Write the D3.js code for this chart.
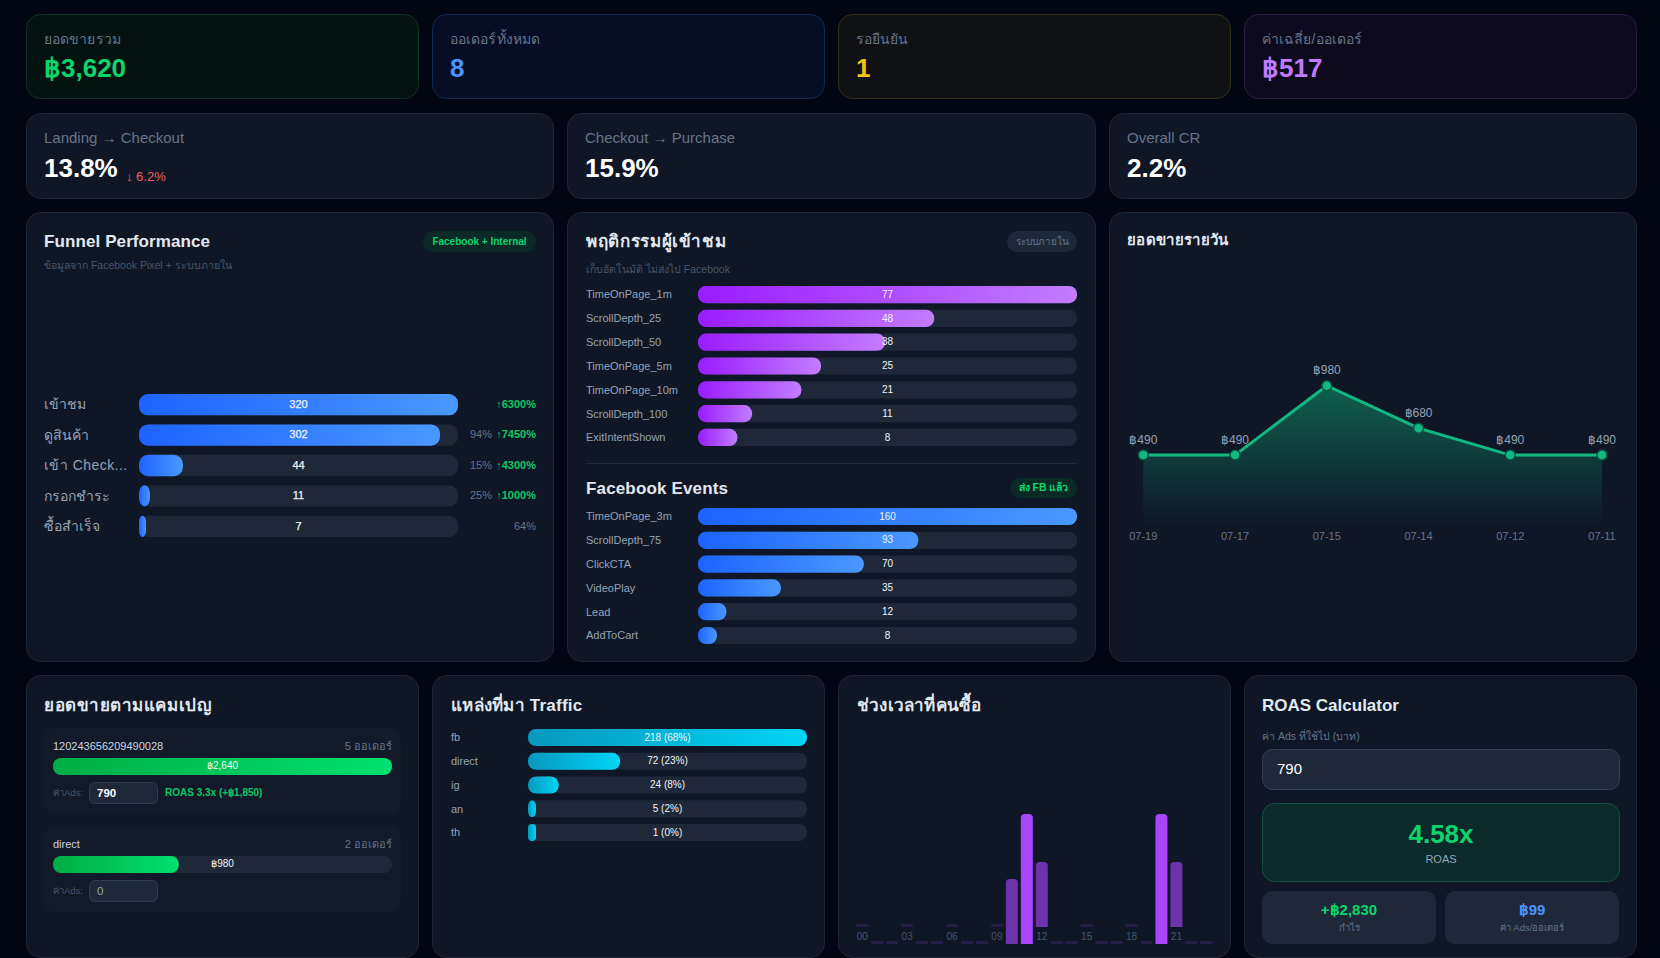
<!DOCTYPE html>
<html>
<head>
<meta charset="utf-8">
<script src="https://cdn.jsdelivr.net/npm/d3@7"></script>
<style>
  html, body { margin: 0; padding: 0; background: #020613; overflow: hidden; }
  svg { display: block; }
  text { font-family: "Liberation Sans", sans-serif; }
</style>
</head>
<body>
<script>
// ---- data ----
var kpiLabels = ["ยอดขายรวม", "ออเดอร์ทั้งหมด", "รอยืนยัน", "ค่าเฉลี่ย/ออเดอร์"];
var kpiValues = ["฿3,620", "8", "1", "฿517"];
var rateLabels = ["Landing → Checkout", "Checkout → Purchase", "Overall CR"];
var rateValues = ["13.8%", "15.9%", "2.2%"];

var funnelLabels = ["เข้าชม", "ดูสินค้า", "เข้า Check...", "กรอกชำระ", "ซื้อสำเร็จ"];
var funnelValues = [320, 302, 44, 11, 7];
var funnelPct = ["", "94%", "15%", "25%", "64%"];
var funnelGrowth = ["↑6300%", "↑7450%", "↑4300%", "↑1000%", ""];

var behaviorLabels = ["TimeOnPage_1m", "ScrollDepth_25", "ScrollDepth_50", "TimeOnPage_5m", "TimeOnPage_10m", "ScrollDepth_100", "ExitIntentShown"];
var behaviorValues = [77, 48, 38, 25, 21, 11, 8];
var fbLabels = ["TimeOnPage_3m", "ScrollDepth_75", "ClickCTA", "VideoPlay", "Lead", "AddToCart"];
var fbValues = [160, 93, 70, 35, 12, 8];

var dayLabels = ["07-19", "07-17", "07-15", "07-14", "07-12", "07-11"];
var daySales = [490, 490, 980, 680, 490, 490];

var campaignNames = ["120243656209490028", "direct"];
var campaignOrders = ["5 ออเดอร์", "2 ออเดอร์"];
var campaignSales = [2640, 980];
var campaignAds = ["790", "0"];

var trafficLabels = ["fb", "direct", "ig", "an", "th"];
var trafficValues = [218, 72, 24, 5, 1];
var trafficPct = ["68%", "23%", "8%", "2%", "0%"];

var hours = d3.range(24);
var hourOrders = [0, 0, 0, 0, 0, 0, 0, 0, 0, 0, 1, 2, 1, 0, 0, 0, 0, 0, 0, 0, 2, 1, 0, 0];
var hourTicks = ["00", "03", "06", "09", "12", "15", "18", "21"];

// ---- colours ----
var green = "#0dd46e", blue = "#4a94ff", yellow = "#f5c211", purple = "#bf7bff";
var muted = "#64748b", soft = "#94a3b8", track = "#1e2838", faint = "#475569";

var svg = d3.select("body").append("svg").attr("width", 1660).attr("height", 958);
var defs = svg.append("defs");

function hGrad(id, c0, c1) {
  var g = defs.append("linearGradient").attr("id", id);
  g.append("stop").attr("offset", "0%").attr("stop-color", c0);
  g.append("stop").attr("offset", "100%").attr("stop-color", c1);
}
hGrad("gBlue", "#1d63ff", "#4a98ff");
hGrad("gPurple", "#9a1cff", "#c27dff");
hGrad("gCyan", "#0798bd", "#00d5f5");
hGrad("gGreen", "#00ad45", "#00e070");

var areaGrad = defs.append("linearGradient").attr("id", "gArea").attr("x1", 0).attr("x2", 0).attr("y1", 0).attr("y2", 1);
areaGrad.append("stop").attr("offset", "0%").attr("stop-color", "#10b981").attr("stop-opacity", 0.45);
areaGrad.append("stop").attr("offset", "100%").attr("stop-color", "#10b981").attr("stop-opacity", 0);

function card(x0, y0, x1, y1, fill, stroke) {
  svg.append("rect").attr("x", x0 + 0.5).attr("y", y0 + 0.5).attr("width", x1 - x0 - 1).attr("height", y1 - y0 - 1)
    .attr("rx", 14).attr("fill", fill || "#0f1726").attr("stroke", stroke || "#1c2636");
}
function label(x, y, txt, size, color, opt) {
  opt = opt || {};
  return svg.append("text").attr("x", x).attr("y", y).text(txt)
    .attr("font-size", size).attr("fill", color)
    .attr("font-weight", opt.bold ? 700 : 400)
    .attr("letter-spacing", opt.ls || 0)
    .attr("text-anchor", opt.anchor || "start")
    .attr("dominant-baseline", opt.base || "auto");
}
function badge(x0, x1, y0, y1, txt, fill, color, bold, size) {
  svg.append("rect").attr("x", x0).attr("y", y0).attr("width", x1 - x0).attr("height", y1 - y0)
    .attr("rx", (y1 - y0) / 2).attr("fill", fill);
  label((x0 + x1) / 2, (y0 + y1) / 2 + 0.5, txt, size || 10, color, { anchor: "middle", base: "middle", bold: bold });
}

// horizontal bar list: a track with a filled bar and a value in the middle
function barList(o) {
  var x = d3.scaleLinear().domain([0, o.max]).range([0, o.x1 - o.x0]);
  var y = d3.scaleBand().domain(o.labels).range([o.y0, o.y1]).paddingInner(o.pad);
  var g = svg.append("g");
  var row = g.selectAll("g").data(o.labels).enter().append("g")
    .attr("transform", function (d) { return "translate(0," + y(d) + ")"; });
  row.append("rect").attr("x", o.x0).attr("width", o.x1 - o.x0).attr("height", y.bandwidth())
    .attr("rx", o.rx).attr("fill", track);
  row.append("rect").attr("x", o.x0).attr("height", y.bandwidth())
    .attr("width", function (d, i) { return Math.max(x(o.values[i]), o.minW || 0); })
    .attr("rx", function (d, i) { return Math.min(o.rx, x(o.values[i]) / 2 + 3); })
    .attr("fill", "url(#" + o.grad + ")");
  row.append("text").attr("class", "name").attr("x", o.labelX).attr("y", y.bandwidth() / 2 + 1)
    .attr("dominant-baseline", "middle").attr("font-size", o.labelSize).attr("fill", o.labelColor)
    .text(function (d) { return d; });
  row.append("text").attr("x", (o.x0 + o.x1) / 2).attr("y", y.bandwidth() / 2 + 0.5)
    .attr("dominant-baseline", "middle").attr("text-anchor", "middle")
    .attr("font-size", o.valueSize).attr("fill", "#f1f5f9")
    .attr("stroke", o.valueStroke ? "#f1f5f9" : "none").attr("stroke-width", o.valueStroke || 0)
    .text(function (d, i) { return o.valueText ? o.valueText(i) : o.values[i]; });
  return { row: row, y: y };
}

// ---- KPI row ----
var kpiX = [[26, 419], [432, 825], [838, 1231], [1244, 1637]];
var kpiFill = ["#04130f", "#050e24", "#101113", "#0e0a1e"];
var kpiStroke = ["#0b3325", "#10294f", "#33301a", "#2c1a4c"];
var kpiColor = [green, blue, yellow, purple];
kpiLabels.forEach(function (d, i) {
  card(kpiX[i][0], 14, kpiX[i][1], 99, kpiFill[i], kpiStroke[i]);
  label(kpiX[i][0] + 18, 44, d, 14, muted, { ls: 0.1 });
  label(kpiX[i][0] + 18, 76.5, kpiValues[i], 26, kpiColor[i], { bold: true });
});

// ---- conversion row ----
var rateX = [[26, 554], [567, 1096], [1109, 1637]];
rateLabels.forEach(function (d, i) {
  card(rateX[i][0], 113, rateX[i][1], 199);
  label(rateX[i][0] + 18, 143, d, 15, muted);
  label(rateX[i][0] + 18, 177, rateValues[i], 26, "#ffffff", { bold: true });
});
label(126, 181, "↓ 6.2%", 13, "#f25c5c");

// ---- funnel ----
card(26, 212, 554, 662);
label(44, 247, "Funnel Performance", 17, "#e2e8f0", { bold: true, ls: 0.1 });
label(44, 269, "ข้อมูลจาก Facebook Pixel + ระบบภายใน", 10.5, faint);
badge(423, 536, 231, 252, "Facebook + Internal", "#0c2a25", green, true);
var fn = barList({
  labels: funnelLabels, values: funnelValues, max: 320, x0: 139, x1: 458, y0: 394, y1: 537, pad: 0.3, rx: 9,
  grad: "gBlue", labelX: 44, labelSize: 14, labelColor: soft, valueSize: 11, valueStroke: 0.25
});
fn.row.select("text.name").attr("letter-spacing", function (d) { return /Check/.test(d) ? 0.45 : 0; });
fn.row.append("text").attr("x", function (d, i) { return funnelGrowth[i] ? 492 : 536; }).attr("y", fn.y.bandwidth() / 2 + 0.5)
  .attr("dominant-baseline", "middle").attr("text-anchor", "end").attr("font-size", 11).attr("fill", muted)
  .text(function (d, i) { return funnelPct[i]; });
fn.row.append("text").attr("x", 536).attr("y", fn.y.bandwidth() / 2 + 0.5)
  .attr("dominant-baseline", "middle").attr("text-anchor", "end").attr("font-size", 11).attr("font-weight", 700).attr("fill", "#10c765")
  .text(function (d, i) { return funnelGrowth[i]; });

// ---- visitor behaviour + facebook events ----
card(567, 212, 1096, 662);
label(586, 247, "พฤติกรรมผู้เข้าชม", 17, "#e2e8f0", { bold: true, ls: 0.65 });
label(586, 273, "เก็บอัตโนมัติ ไม่ส่งไป Facebook", 10.5, faint);
badge(1007, 1077, 231, 252, "ระบบภายใน", track, muted);
barList({
  labels: behaviorLabels, values: behaviorValues, max: 77, x0: 698, x1: 1077, y0: 286, y1: 446, pad: 0.28, rx: 8,
  grad: "gPurple", labelX: 586, labelSize: 11, labelColor: soft, valueSize: 10
});
svg.append("line").attr("x1", 586).attr("x2", 1077).attr("y1", 463.5).attr("y2", 463.5).attr("stroke", "#1e293b");
label(586, 494, "Facebook Events", 17, "#e2e8f0", { bold: true, ls: 0.15 });
badge(1010, 1077, 478, 498, "ส่ง FB แล้ว", "#0c2a25", green, true, 10.5);
barList({
  labels: fbLabels, values: fbValues, max: 160, x0: 698, x1: 1077, y0: 508, y1: 644, pad: 0.28, rx: 8,
  grad: "gBlue", labelX: 586, labelSize: 11, labelColor: soft, valueSize: 10
});

// ---- daily sales line ----
card(1109, 212, 1637, 662);
label(1127, 245, "ยอดขายรายวัน", 15, "#e2e8f0", { bold: true, ls: 0.35 });
var dayX = d3.scalePoint().domain(dayLabels).range([1143.3, 1602]);
var dayY = d3.scaleLinear().domain([0, 980]).range([524.5, 385.7]);
var dayG = svg.append("g");
dayG.append("path").datum(daySales)
  .attr("d", d3.area().x(function (d, i) { return dayX(dayLabels[i]); }).y0(dayY(0)).y1(function (d) { return dayY(d); }))
  .attr("fill", "url(#gArea)");
dayG.append("path").datum(daySales)
  .attr("d", d3.line().x(function (d, i) { return dayX(dayLabels[i]); }).y(function (d) { return dayY(d); }))
  .attr("fill", "none").attr("stroke", "#10b981").attr("stroke-width", 3);
dayG.selectAll("circle").data(daySales).enter().append("circle")
  .attr("cx", function (d, i) { return dayX(dayLabels[i]); }).attr("cy", function (d) { return dayY(d); })
  .attr("r", 5).attr("fill", "#10b981").attr("stroke", "#0c4f40").attr("stroke-width", 1.5);
dayG.selectAll("text.v").data(daySales).enter().append("text").attr("class", "v")
  .attr("x", function (d, i) { return dayX(dayLabels[i]); }).attr("y", function (d) { return dayY(d) - 11.5; })
  .attr("text-anchor", "middle").attr("font-size", 12).attr("fill", soft)
  .text(function (d) { return "฿" + d; });
dayG.selectAll("text.t").data(dayLabels).enter().append("text").attr("class", "t")
  .attr("x", function (d) { return dayX(d); }).attr("y", 540)
  .attr("text-anchor", "middle").attr("font-size", 11).attr("fill", muted)
  .text(function (d) { return d; });

// ---- campaigns ----
card(26, 675, 419, 958);
label(44, 711, "ยอดขายตามแคมเปญ", 17, "#e2e8f0", { bold: true, ls: 0.55 });
var campX = d3.scaleLinear().domain([0, 2640]).range([0, 339]);
var campTop = [728, 826];
campaignNames.forEach(function (d, i) {
  var t = campTop[i];
  svg.append("rect").attr("x", 44).attr("y", t).attr("width", 357).attr("height", 86).attr("rx", 10).attr("fill", "#121a29");
  label(53, t + 21.5, d, 11, "#cbd5e1");
  label(392, t + 21.5, campaignOrders[i], 11, muted, { anchor: "end" });
  svg.append("rect").attr("x", 53).attr("y", t + 30).attr("width", 339).attr("height", 17).attr("rx", 8).attr("fill", track);
  svg.append("rect").attr("x", 53).attr("y", t + 30).attr("width", campX(campaignSales[i])).attr("height", 17).attr("rx", 8).attr("fill", "url(#gGreen)");
  label(222.5, t + 38.5, "฿" + d3.format(",")(campaignSales[i]), 10, "#f1f5f9", { anchor: "middle", base: "middle" });
  label(53, t + 65, "ค่าAds:", 9.5, faint, { base: "middle" });
  svg.append("rect").attr("x", 89.5).attr("y", t + 54.5).attr("width", 68).attr("height", 21).attr("rx", 5).attr("fill", track).attr("stroke", "#2f3b4e");
  label(97, t + 65.5, campaignAds[i], 11.5, i ? soft : "#ffffff", { base: "middle", bold: !i });
});
label(165, 793, "ROAS 3.3x (+฿1,850)", 10, "#10c765", { base: "middle", bold: true });

// ---- traffic ----
card(432, 675, 825, 958);
label(451, 711, "แหล่งที่มา Traffic", 17, "#e2e8f0", { bold: true, ls: 0.25 });
barList({
  labels: trafficLabels, values: trafficValues, max: 218, x0: 528, x1: 807, y0: 729, y1: 841, pad: 0.28, rx: 8, minW: 8,
  grad: "gCyan", labelX: 451, labelSize: 11, labelColor: soft, valueSize: 10,
  valueText: function (i) { return trafficValues[i] + " (" + trafficPct[i] + ")"; }
});

// ---- hours ----
card(838, 675, 1231, 958);
label(857, 711, "ช่วงเวลาที่คนซื้อ", 17, "#e2e8f0", { bold: true, ls: 0.2 });
var hourX = d3.scaleBand().domain(hours).range([854.8, 1213.8]).paddingInner(0.2).paddingOuter(0.1);
var hourH = d3.scaleLinear().domain([0, 2]).range([0, 130]);
function hourBase(h) { return h % 3 === 0 ? 927 : 944; }
svg.append("g").selectAll("path").data(hours).enter().append("path")
  .attr("d", function (h, i) {
    var v = hourOrders[i], x = hourX(h), w = hourX.bandwidth(), b = hourBase(h), ht = Math.max(hourH(v), 3), r = v ? 4 : 1;
    return "M" + x + "," + b + "V" + (b - ht + r) + "Q" + x + "," + (b - ht) + " " + (x + r) + "," + (b - ht) +
      "H" + (x + w - r) + "Q" + (x + w) + "," + (b - ht) + " " + (x + w) + "," + (b - ht + r) + "V" + b + "Z";
  })
  .attr("fill", "#a845ff")
  .attr("opacity", function (h, i) { return hourOrders[i] === 2 ? 1 : hourOrders[i] === 1 ? 0.62 : 0.16; });
svg.append("g").selectAll("text").data(hourTicks).enter().append("text")
  .attr("x", function (d) { return hourX(+d) + hourX.bandwidth() / 2; }).attr("y", 937)
  .attr("dominant-baseline", "middle").attr("text-anchor", "middle").attr("font-size", 10).attr("fill", faint)
  .text(function (d) { return d; });

// ---- ROAS calculator ----
card(1244, 675, 1637, 958);
label(1262, 711, "ROAS Calculator", 17, "#e2e8f0", { bold: true });
label(1262, 737, "ค่า Ads ที่ใช้ไป (บาท)", 10.5, muted, { base: "middle" });
svg.append("rect").attr("x", 1262.5).attr("y", 749.5).attr("width", 357).attr("height", 40).attr("rx", 10).attr("fill", track).attr("stroke", "#334155");
label(1277, 770, "790", 15, "#ffffff", { base: "middle" });
svg.append("rect").attr("x", 1262.5).attr("y", 803.5).attr("width", 357).attr("height", 78).attr("rx", 12).attr("fill", "#0d2a2b").attr("stroke", "#12503f");
label(1441, 843, "4.58x", 26, green, { anchor: "middle", bold: true });
label(1441, 860, "ROAS", 11, soft, { anchor: "middle", base: "middle" });
svg.append("rect").attr("x", 1262).attr("y", 891).attr("width", 174).attr("height", 53).attr("rx", 10).attr("fill", track);
svg.append("rect").attr("x", 1445).attr("y", 891).attr("width", 174).attr("height", 53).attr("rx", 10).attr("fill", track);
label(1349, 915, "+฿2,830", 15, green, { anchor: "middle", bold: true });
label(1349, 928, "กำไร", 9.5, muted, { anchor: "middle", base: "middle" });
label(1532, 915, "฿99", 15, blue, { anchor: "middle", bold: true });
label(1532, 928, "ค่า Ads/ออเดอร์", 9.5, muted, { anchor: "middle", base: "middle" });
</script>
</body>
</html>
